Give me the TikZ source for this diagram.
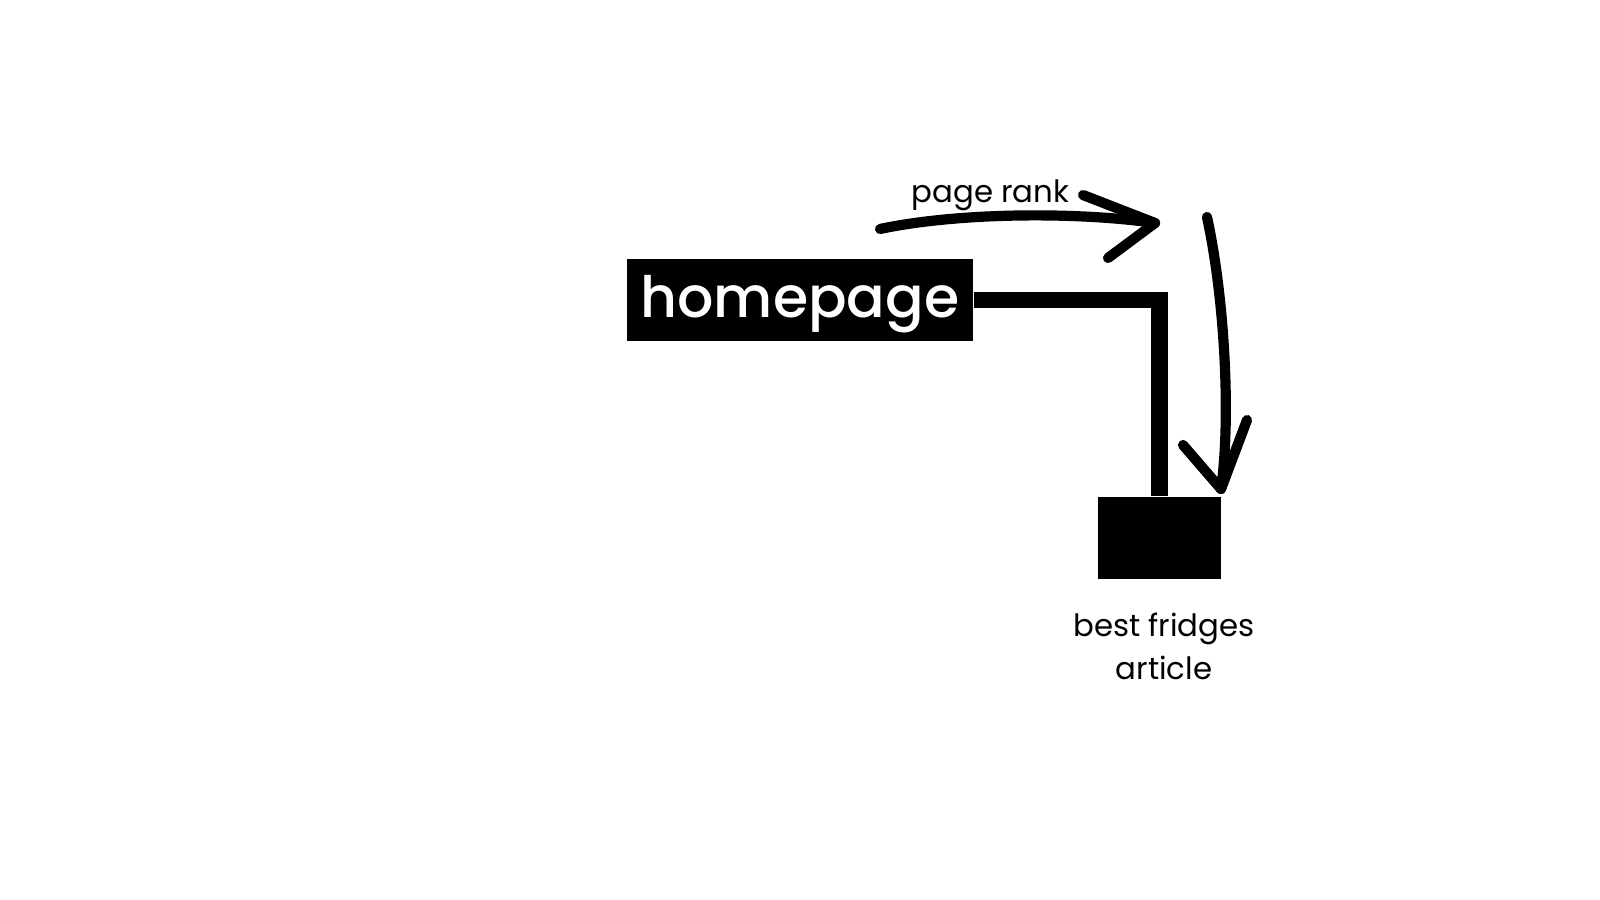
\documentclass[tikz,border=0pt]{standalone}
\usepackage{fontspec}
\setmainfont{Poppins}
\newfontfamily\pagefont{Poppins Medium}
\usetikzlibrary{positioning}
\begin{document}
\begin{tikzpicture}[x=0.01cm, y=-0.01cm,
  page/.style={fill=black, draw=none, inner sep=0pt, text=white,
               minimum width=3.46cm, minimum height=0.82cm, text depth=1.9pt,
               font=\pagefont\fontsize{16.2}{20}\selectfont},
  leaf/.style={fill=black, draw=none, minimum width=1.23cm, minimum height=0.82cm},
  link/.style={line width=4.8pt, line join=miter, draw=black},
  hand/.style={line width=2.9pt, line cap=round, line join=round, draw=black},
  lbl/.style={font=\fontsize{8.75}{12}\selectfont, inner sep=0pt, align=center}
]
  % Cadre
  \useasboundingbox (0,0) rectangle (1600,900);

  % Pages
  \node[page] (home) at (800,300) {homepage};
  \node[leaf] (art) at (1159.5,538) {};
  \node[lbl, below=0.33cm of art, xshift=0.45mm] (artlbl) {best fridges\\article};

  % Lien interne
  \draw[link] (home.east) -| (art.north);

  % Fleches dessinees a la main
  \coordinate (r1) at (880,229);
  \coordinate (r2) at (1155,223);
  \coordinate (d1) at (1207,217);
  \coordinate (d2) at (1221,489);
  \draw[hand] (r1) .. controls (960,212) and (1080,212) .. (r2);
  \draw[hand] (1083,195) -- (r2) -- (1108,258);
  \draw[hand] (d1) .. controls (1225,300) and (1231,420) .. (d2);
  \draw[hand] (1183,445) -- (d2) -- (1247,420);
  \node[lbl, anchor=base] (rank) at (990.5,202) {page rank};
\end{tikzpicture}
\end{document}
